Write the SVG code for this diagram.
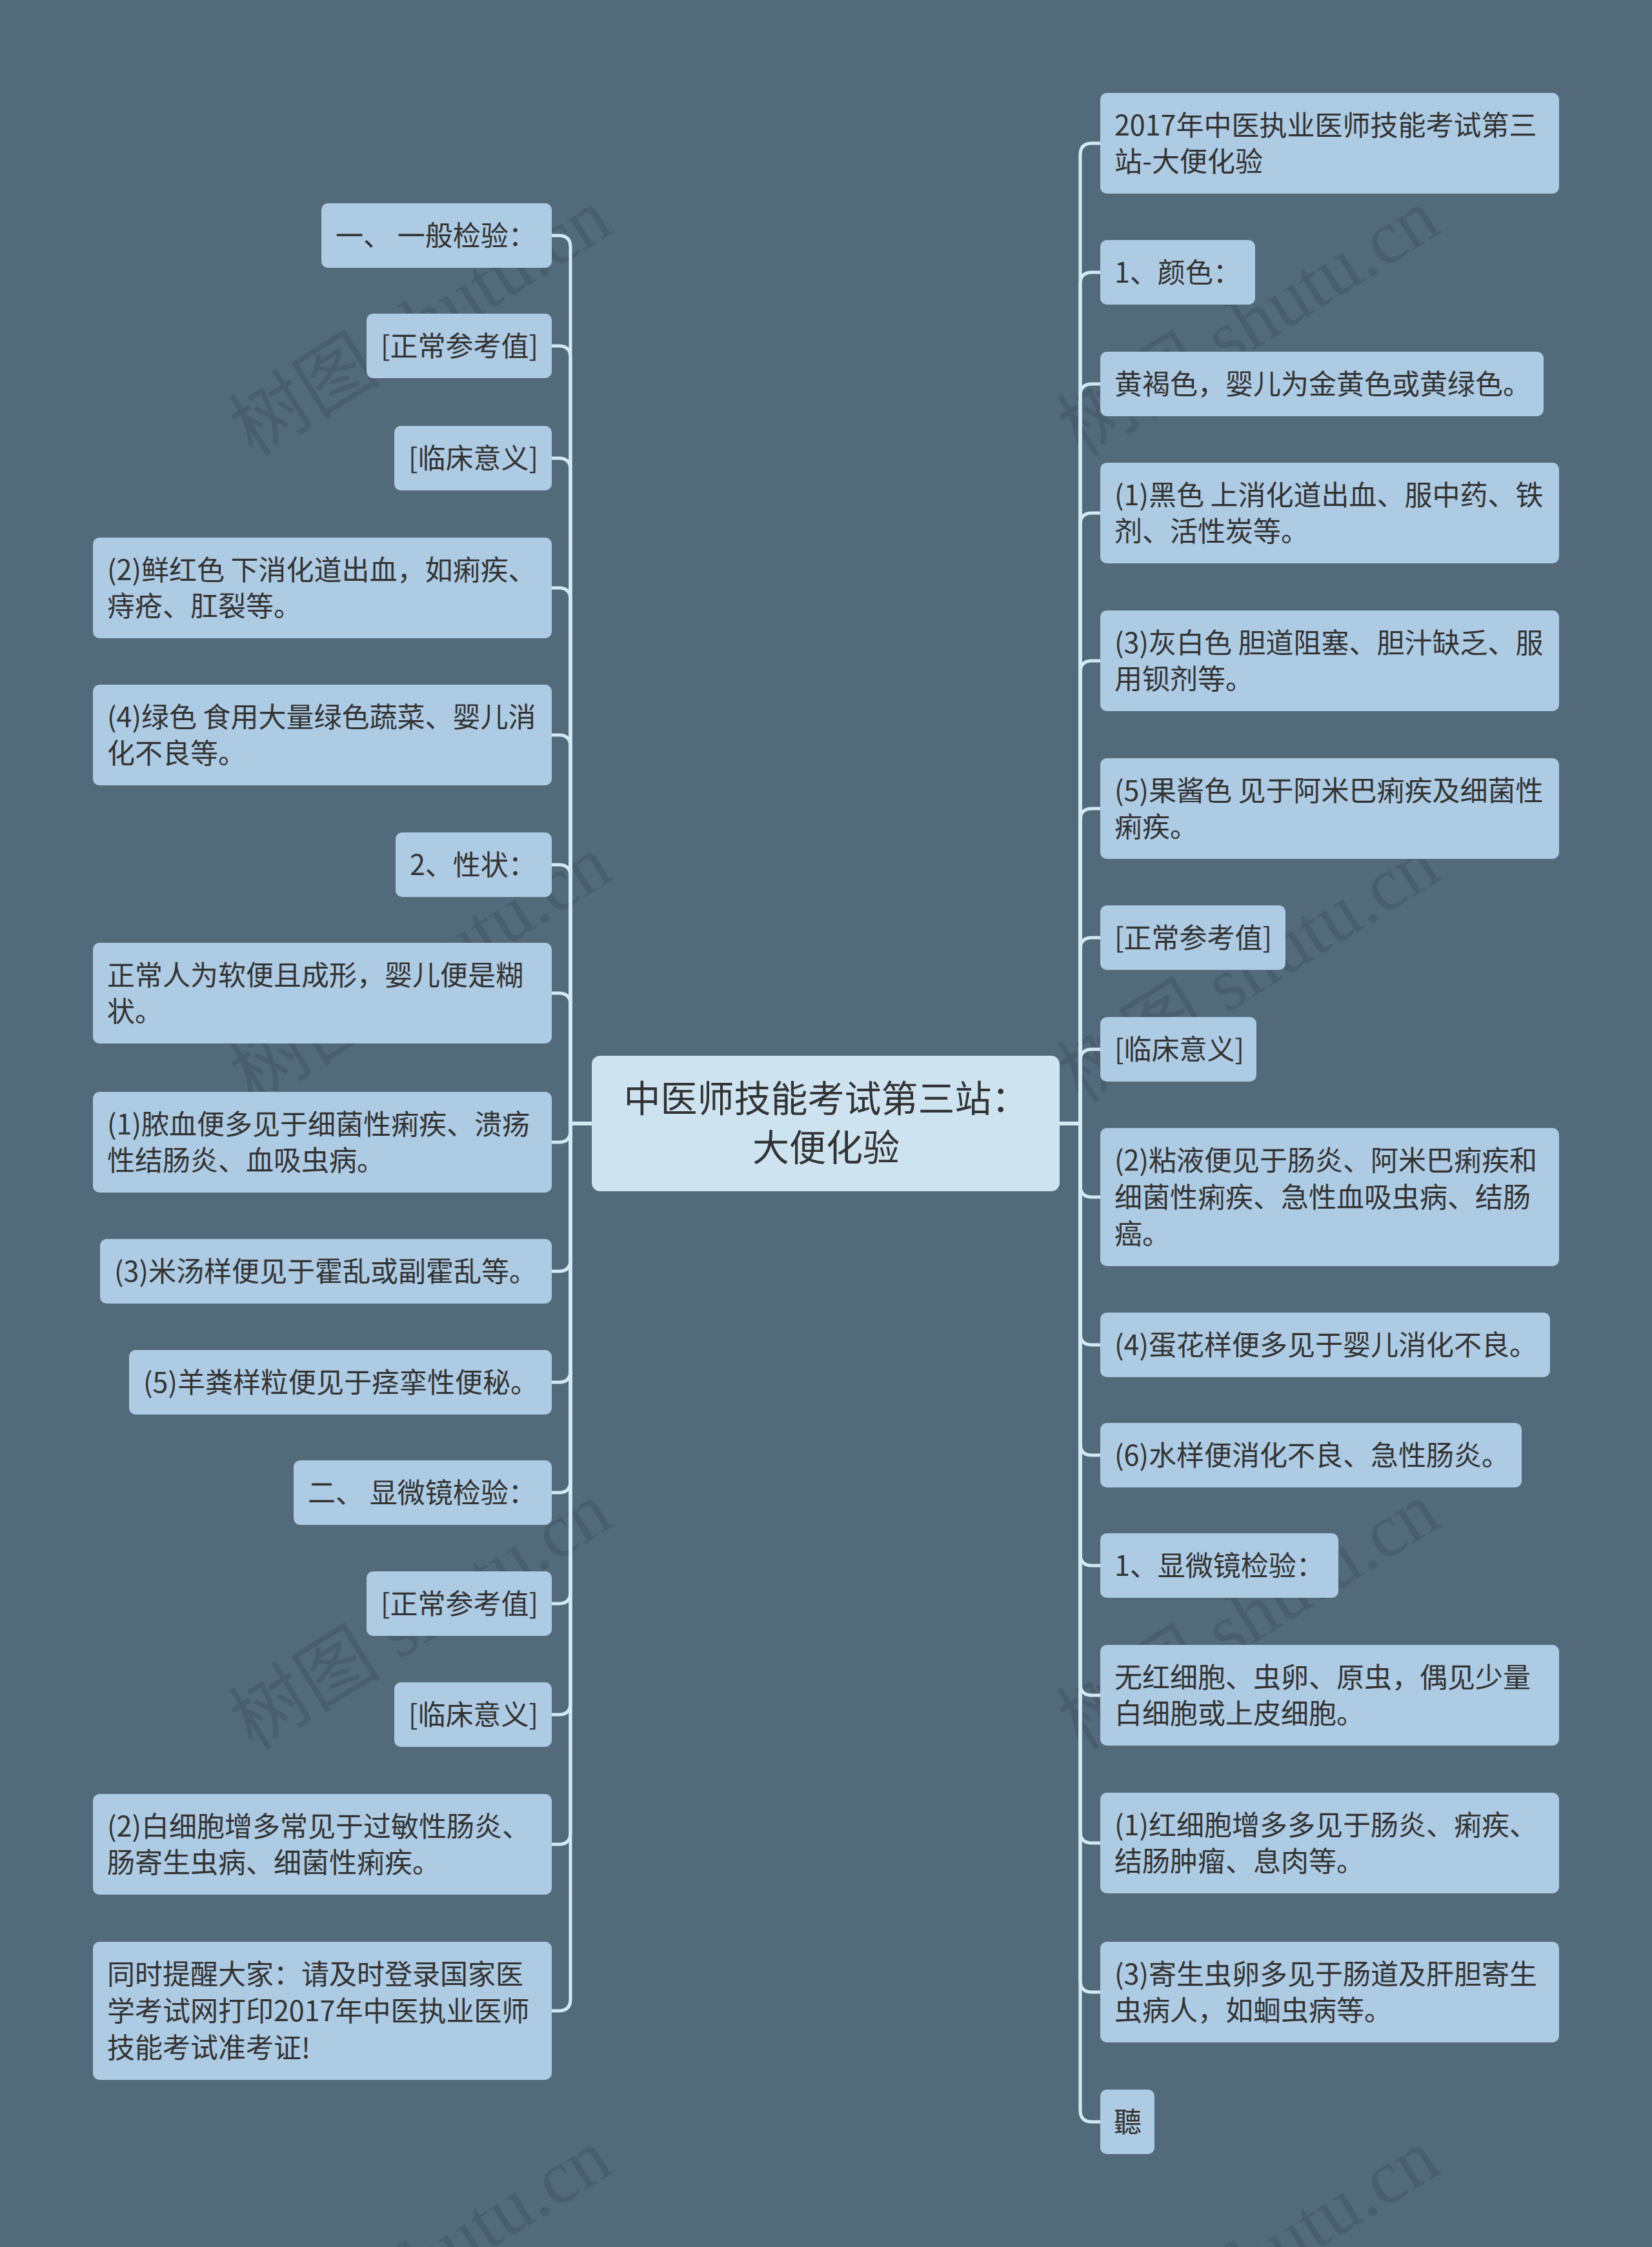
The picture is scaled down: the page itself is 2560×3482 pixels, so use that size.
<svg xmlns="http://www.w3.org/2000/svg" width="2560" height="3482" viewBox="0 0 2560 3482">
<style>
.bg{fill:#536a7a}
.n rect{fill:#adcbe3}
.n text,.root text{font-family:"Noto Sans CJK SC","Noto Sans",sans-serif;fill:#333333}
.n text{font-size:43px}
.root rect{fill:#cde4f0}
.root text{font-size:57px;text-anchor:middle}
.c path{fill:none;stroke:#d3e9f4;stroke-width:5;stroke-linecap:round}
.wm text{font-family:"Liberation Serif","Noto Sans CJK SC",serif;font-size:118px;fill:#000;fill-opacity:0.1;text-anchor:middle}
</style>
<rect class="bg" x="0" y="0" width="2560" height="3482"/>
<g class="wm">
<text transform="translate(673 534) rotate(-32)">树图 shutu.cn</text>
<text transform="translate(1956 534) rotate(-32)">树图 shutu.cn</text>
<text transform="translate(673 1536) rotate(-32)">树图 shutu.cn</text>
<text transform="translate(1956 1536) rotate(-32)">树图 shutu.cn</text>
<text transform="translate(673 2538) rotate(-32)">树图 shutu.cn</text>
<text transform="translate(1956 2538) rotate(-32)">树图 shutu.cn</text>
<text transform="translate(673 3540) rotate(-32)">树图 shutu.cn</text>
<text transform="translate(1956 3540) rotate(-32)">树图 shutu.cn</text>
</g>
<g class="c" id="connectors">
<path d="M917 1741H884V383Q884 365 866 365H855"/>
<path d="M917 1741H884V554Q884 536 866 536H855"/>
<path d="M917 1741H884V728Q884 710 866 710H855"/>
<path d="M917 1741H884V929Q884 911 866 911H855"/>
<path d="M917 1741H884V1157Q884 1139 866 1139H855"/>
<path d="M917 1741H884V1358Q884 1340 866 1340H855"/>
<path d="M917 1741H884V1557Q884 1539 866 1539H855"/>
<path d="M917 1741H884V1752Q884 1770 866 1770H855"/>
<path d="M917 1741H884V1952Q884 1970 866 1970H855"/>
<path d="M917 1741H884V2124Q884 2142 866 2142H855"/>
<path d="M917 1741H884V2295Q884 2313 866 2313H855"/>
<path d="M917 1741H884V2467Q884 2485 866 2485H855"/>
<path d="M917 1741H884V2639Q884 2657 866 2657H855"/>
<path d="M917 1741H884V2840Q884 2858 866 2858H855"/>
<path d="M917 1741H884V3098Q884 3116 866 3116H855"/>
<path d="M1642 1741H1674V240Q1674 222 1692 222H1705"/>
<path d="M1642 1741H1674V440Q1674 422 1692 422H1705"/>
<path d="M1642 1741H1674V613Q1674 595 1692 595H1705"/>
<path d="M1642 1741H1674V813Q1674 795 1692 795H1705"/>
<path d="M1642 1741H1674V1042Q1674 1024 1692 1024H1705"/>
<path d="M1642 1741H1674V1271Q1674 1253 1692 1253H1705"/>
<path d="M1642 1741H1674V1471Q1674 1453 1692 1453H1705"/>
<path d="M1642 1741H1674V1644Q1674 1626 1692 1626H1705"/>
<path d="M1642 1741H1674V1837Q1674 1855 1692 1855H1705"/>
<path d="M1642 1741H1674V2066Q1674 2084 1692 2084H1705"/>
<path d="M1642 1741H1674V2237Q1674 2255 1692 2255H1705"/>
<path d="M1642 1741H1674V2408Q1674 2426 1692 2426H1705"/>
<path d="M1642 1741H1674V2609Q1674 2627 1692 2627H1705"/>
<path d="M1642 1741H1674V2838Q1674 2856 1692 2856H1705"/>
<path d="M1642 1741H1674V3069Q1674 3087 1692 3087H1705"/>
<path d="M1642 1741H1674V3270Q1674 3288 1692 3288H1705"/>
</g>
<g class="root" id="root">
<rect x="917" y="1636" width="725" height="210" rx="13"/>
<text x="1280" y="1723">中医师技能考试第三站：</text>
<text x="1280" y="1799">大便化验</text>
</g>
<g class="n" id="L1"><rect x="498" y="315" width="357" height="100" rx="10"/><text x="520" y="381">一、 一般检验：</text></g>
<g class="n" id="L2"><rect x="568" y="486" width="287" height="100" rx="10"/><text x="590" y="552">[正常参考值]</text></g>
<g class="n" id="L3"><rect x="611" y="660" width="244" height="100" rx="10"/><text x="633" y="726">[临床意义]</text></g>
<g class="n" id="L4"><rect x="144" y="833" width="711" height="156" rx="10"/><text x="166" y="899">(2)鲜红色 下消化道出血，如痢疾、</text><text x="166" y="955">痔疮、肛裂等。</text></g>
<g class="n" id="L5"><rect x="144" y="1061" width="711" height="156" rx="10"/><text x="166" y="1127">(4)绿色 食用大量绿色蔬菜、婴儿消</text><text x="166" y="1183">化不良等。</text></g>
<g class="n" id="L6"><rect x="613" y="1290" width="242" height="100" rx="10"/><text x="635" y="1356">2、性状：</text></g>
<g class="n" id="L7"><rect x="144" y="1461" width="711" height="156" rx="10"/><text x="166" y="1527">正常人为软便且成形，婴儿便是糊</text><text x="166" y="1583">状。</text></g>
<g class="n" id="L8"><rect x="144" y="1692" width="711" height="156" rx="10"/><text x="166" y="1758">(1)脓血便多见于细菌性痢疾、溃疡</text><text x="166" y="1814">性结肠炎、血吸虫病。</text></g>
<g class="n" id="L9"><rect x="155" y="1920" width="700" height="100" rx="10"/><text x="177" y="1986">(3)米汤样便见于霍乱或副霍乱等。</text></g>
<g class="n" id="L10"><rect x="200" y="2092" width="655" height="100" rx="10"/><text x="222" y="2158">(5)羊粪样粒便见于痉挛性便秘。</text></g>
<g class="n" id="L11"><rect x="455" y="2263" width="400" height="100" rx="10"/><text x="477" y="2329">二、 显微镜检验：</text></g>
<g class="n" id="L12"><rect x="568" y="2435" width="287" height="100" rx="10"/><text x="590" y="2501">[正常参考值]</text></g>
<g class="n" id="L13"><rect x="611" y="2607" width="244" height="100" rx="10"/><text x="633" y="2673">[临床意义]</text></g>
<g class="n" id="L14"><rect x="144" y="2780" width="711" height="156" rx="10"/><text x="166" y="2846">(2)白细胞增多常见于过敏性肠炎、</text><text x="166" y="2902">肠寄生虫病、细菌性痢疾。</text></g>
<g class="n" id="L15"><rect x="144" y="3009" width="711" height="214" rx="10"/><text x="166" y="3075">同时提醒大家：请及时登录国家医</text><text x="166" y="3132">学考试网打印2017年中医执业医师</text><text x="166" y="3189">技能考试准考证!</text></g>
<g class="n" id="R1"><rect x="1705" y="144" width="711" height="156" rx="10"/><text x="1727" y="210">2017年中医执业医师技能考试第三</text><text x="1727" y="266">站-大便化验</text></g>
<g class="n" id="R2"><rect x="1705" y="372" width="240" height="100" rx="10"/><text x="1727" y="438">1、颜色：</text></g>
<g class="n" id="R3"><rect x="1705" y="545" width="687" height="100" rx="10"/><text x="1727" y="611">黄褐色，婴儿为金黄色或黄绿色。</text></g>
<g class="n" id="R4"><rect x="1705" y="717" width="711" height="156" rx="10"/><text x="1727" y="783">(1)黑色 上消化道出血、服中药、铁</text><text x="1727" y="839">剂、活性炭等。</text></g>
<g class="n" id="R5"><rect x="1705" y="946" width="711" height="156" rx="10"/><text x="1727" y="1012">(3)灰白色 胆道阻塞、胆汁缺乏、服</text><text x="1727" y="1068">用钡剂等。</text></g>
<g class="n" id="R6"><rect x="1705" y="1175" width="711" height="156" rx="10"/><text x="1727" y="1241">(5)果酱色 见于阿米巴痢疾及细菌性</text><text x="1727" y="1297">痢疾。</text></g>
<g class="n" id="R7"><rect x="1705" y="1403" width="287" height="100" rx="10"/><text x="1727" y="1469">[正常参考值]</text></g>
<g class="n" id="R8"><rect x="1705" y="1576" width="242" height="100" rx="10"/><text x="1727" y="1642">[临床意义]</text></g>
<g class="n" id="R9"><rect x="1705" y="1748" width="711" height="214" rx="10"/><text x="1727" y="1814">(2)粘液便见于肠炎、阿米巴痢疾和</text><text x="1727" y="1871">细菌性痢疾、急性血吸虫病、结肠</text><text x="1727" y="1928">癌。</text></g>
<g class="n" id="R10"><rect x="1705" y="2034" width="697" height="100" rx="10"/><text x="1727" y="2100">(4)蛋花样便多见于婴儿消化不良。</text></g>
<g class="n" id="R11"><rect x="1705" y="2205" width="653" height="100" rx="10"/><text x="1727" y="2271">(6)水样便消化不良、急性肠炎。</text></g>
<g class="n" id="R12"><rect x="1705" y="2376" width="369" height="100" rx="10"/><text x="1727" y="2442">1、显微镜检验：</text></g>
<g class="n" id="R13"><rect x="1705" y="2549" width="711" height="156" rx="10"/><text x="1727" y="2615">无红细胞、虫卵、原虫，偶见少量</text><text x="1727" y="2671">白细胞或上皮细胞。</text></g>
<g class="n" id="R14"><rect x="1705" y="2778" width="711" height="156" rx="10"/><text x="1727" y="2844">(1)红细胞增多多见于肠炎、痢疾、</text><text x="1727" y="2900">结肠肿瘤、息肉等。</text></g>
<g class="n" id="R15"><rect x="1705" y="3009" width="711" height="156" rx="10"/><text x="1727" y="3075">(3)寄生虫卵多见于肠道及肝胆寄生</text><text x="1727" y="3131">虫病人，如蛔虫病等。</text></g>
<g class="n" id="R16"><rect x="1705" y="3238" width="84" height="100" rx="10"/><text x="1726" y="3304">聽</text></g>
</svg>
